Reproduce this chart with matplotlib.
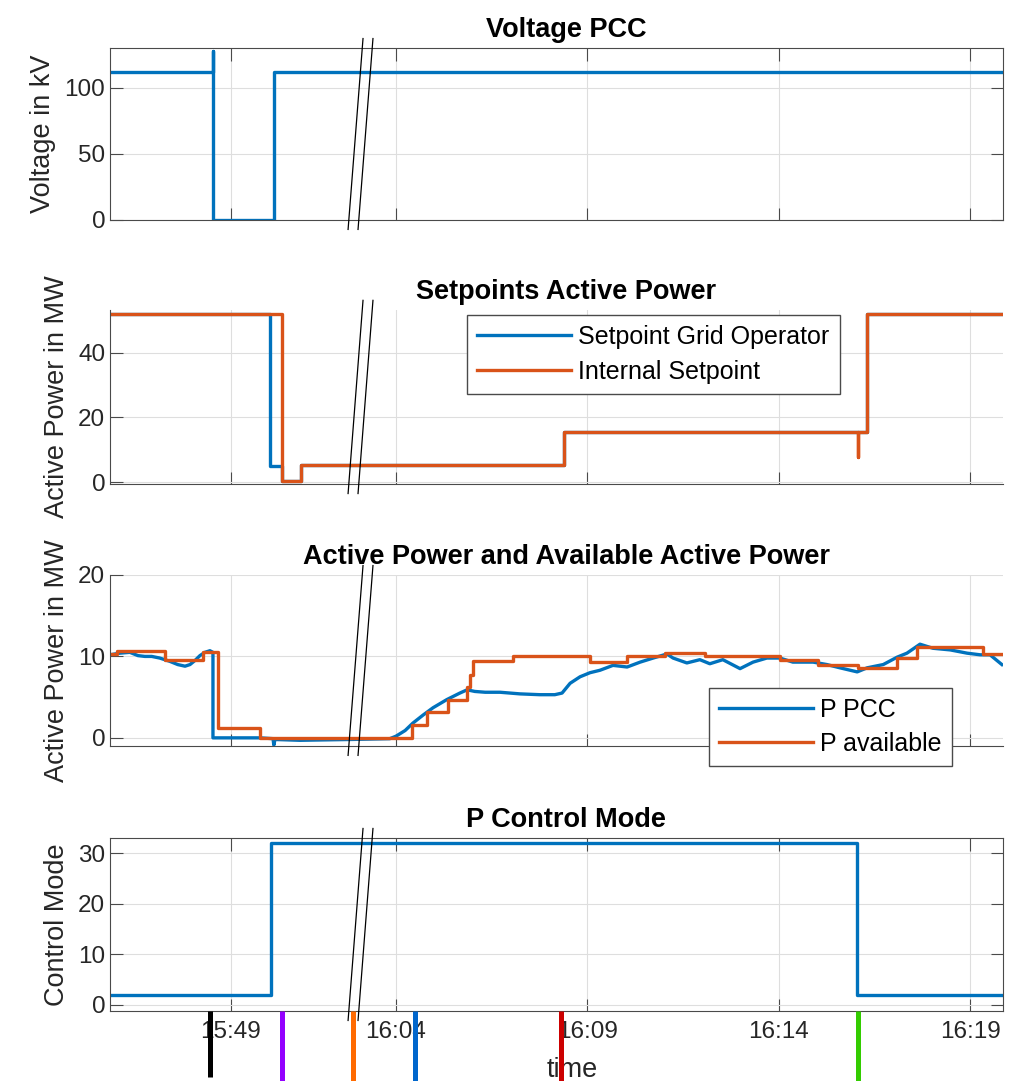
import matplotlib
matplotlib.use("Agg")
import matplotlib.pyplot as plt
import matplotlib.transforms as mtransforms

plt.rcParams['font.family'] = ['Liberation Sans', 'DejaVu Sans']

# time axis in minutes relative to 16:04 (axis is compressed at the // break)
x_start, x_end = -7.47, 15.86
tick_pos = [-4.31, 0, 5, 10, 15]
tick_labels = ['15:49', '16:04', '16:09', '16:14', '16:19']

# Voltage PCC
v_time = [-7.47, -4.78, -4.78, -4.78, -3.19, -3.19, 15.86]
v_kv = [112, 112, 128, 0, 0, 112, 112]

# Setpoints (step data, steps-post)
sp_grid_time = [-7.47, -3.29, -2.98, -2.48, 4.39, 12.3, 15.86]
sp_grid_val = [52, 5, 0.3, 5.3, 15.5, 52, 52]
sp_int_time = [-7.47, -2.98, -2.48, 4.39, 12.07, 12.07, 12.3, 15.86]
sp_int_val = [52, 0.3, 5.3, 15.5, 7.8, 15.5, 52, 52]

# Active power at PCC
p_time = [-7.47, -7.21, -6.95, -6.74, -6.56, -6.38, -6.17, -5.91, -5.70, -5.51,
          -5.38, -5.25, -5.12, -4.99, -4.86, -4.78, -4.78, -3.55, -3.21, -3.19,
          -3.16, -2.51, -1.20, -0.16, 0.00, 0.24, 0.44, 0.71, 0.97, 1.33,
          1.67, 1.86, 2.06, 2.33, 2.72, 3.24, 3.76, 4.15, 4.34, 4.55,
          4.81, 5.07, 5.33, 5.67, 6.04, 6.38, 6.72, 7.08, 7.24, 7.60,
          7.94, 8.20, 8.54, 8.99, 9.33, 9.69, 10.03, 10.37, 10.90, 11.26,
          11.60, 12.05, 12.31, 12.73, 13.09, 13.35, 13.69, 14.03, 14.48, 14.92,
          15.26, 15.52, 15.83]
p_pcc = [10.2, 10.4, 10.5, 10.1, 10.0, 10.0, 9.8, 9.4, 9.0, 8.8,
         9.0, 9.5, 10.1, 10.5, 10.7, 10.5, 0.0, 0.0, -0.1, -0.9,
         -0.2, -0.3, -0.2, -0.1, 0.2, 0.9, 1.8, 2.8, 3.7, 4.7,
         5.5, 5.9, 5.7, 5.6, 5.6, 5.4, 5.3, 5.3, 5.5, 6.7,
         7.5, 8.0, 8.3, 8.9, 8.7, 9.3, 9.8, 10.3, 9.8, 9.2,
         9.6, 9.1, 9.6, 8.5, 9.3, 9.8, 9.8, 9.3, 9.3, 9.0,
         8.6, 8.1, 8.6, 9.0, 9.9, 10.4, 11.5, 11.0, 10.8, 10.4,
         10.2, 10.2, 9.0]

# Available active power (steps-post)
pa_time = [-7.47, -7.29, -6.04, -5.04, -4.65, -3.55, 0.42, 0.81, 1.36, 1.86,
           1.93, 2.01, 3.06, 5.07, 6.04, 7.03, 8.07, 10.03, 11.03, 12.07,
           13.09, 13.61, 15.34, 15.86]
pa_val = [10.3, 10.7, 9.6, 10.6, 1.2, 0.0, 1.6, 3.2, 4.6, 6.3,
          7.7, 9.4, 10.1, 9.3, 10.0, 10.4, 10.0, 9.6, 9.0, 8.6,
          9.8, 11.2, 10.3, 10.3]

# P control mode (steps-post)
cm_time = [-7.47, -3.27, 12.05, 15.86]
cm_val = [2, 32, 2, 2]

# event markers below the time axis
event_time = [-4.86, -2.98, -1.12, 0.50, 4.31, 12.07]
event_colors = ['black', '#9400FF', '#FF6A00', '#0066CC', '#CC0000', '#33CC00']

BLUE = '#0072BD'
ORANGE = '#D95319'
AX_COLOR = '#4a4a4a'
GRID_COLOR = '#dedede'
TICK_FS = 17.5
LABEL_FS = 19.5

fig = plt.figure(figsize=(10.1, 10.81), dpi=100)
positions = [
    [0.1089, 0.7965, 0.8842, 0.1591],
    [0.1089, 0.5523, 0.8842, 0.1610],
    [0.1089, 0.3099, 0.8842, 0.1582],
    [0.1089, 0.0648, 0.8842, 0.1600],
]
axes = [fig.add_axes(p) for p in positions]


def style_axis(ax, title, ylabel, ylim, yticks, box):
    ax.set_xlim(x_start, x_end)
    ax.set_ylim(*ylim)
    ax.set_yticks(yticks)
    ax.set_xticks(tick_pos)
    ax.set_xticklabels([])
    ax.grid(True, color=GRID_COLOR, linewidth=0.8)
    ax.set_axisbelow(True)
    ax.tick_params(direction='in', length=9, width=0.8, color=AX_COLOR,
                   labelcolor='#262626', labelsize=TICK_FS, top=box, right=box)
    for side, sp in ax.spines.items():
        sp.set_color(AX_COLOR)
        sp.set_linewidth(0.8)
        if side in ('top', 'right') and not box:
            sp.set_visible(False)
    ax.set_title(title, fontsize=LABEL_FS, fontweight='bold', x=0.511, pad=8)
    ax.set_ylabel(ylabel, fontsize=LABEL_FS, color='#262626', labelpad=6)

    # axis break marks "//"
    trans = mtransforms.blended_transform_factory(ax.transData, ax.transAxes)
    for xb in (-1.25, -0.99):
        ax.plot([xb, xb + 0.39], [-0.055, 1.055], color='black', lw=0.9,
                transform=trans, clip_on=False, zorder=5)


ax1, ax2, ax3, ax4 = axes

ax1.plot(v_time, v_kv, color=BLUE, lw=2.4)
style_axis(ax1, 'Voltage PCC', 'Voltage in kV', (0, 130), [0, 50, 100], True)

ax2.plot(sp_grid_time, sp_grid_val, drawstyle='steps-post', color=BLUE, lw=2.4,
         label='Setpoint Grid Operator')
ax2.plot(sp_int_time, sp_int_val, drawstyle='steps-post', color=ORANGE, lw=2.4,
         label='Internal Setpoint')
style_axis(ax2, 'Setpoints Active Power', 'Active Power in MW', (-0.6, 53.3),
           [0, 20, 40], False)
ax2.legend(loc='upper left', bbox_to_anchor=(0.400, 0.971), fontsize=18,
           handlelength=3.75, handletextpad=0.3, borderpad=0.4,
           labelspacing=0.45, fancybox=False, framealpha=1,
           edgecolor=AX_COLOR, borderaxespad=0)

ax3.plot(p_time, p_pcc, color=BLUE, lw=2.4, label='P PCC')
ax3.plot(pa_time, pa_val, drawstyle='steps-post', color=ORANGE, lw=2.4,
         label='P available')
style_axis(ax3, 'Active Power and Available Active Power', 'Active Power in MW',
           (-1, 20), [0, 10, 20], False)
ax3.legend(loc='upper left', bbox_to_anchor=(0.671, 0.339), fontsize=18,
           handlelength=3.75, handletextpad=0.3, borderpad=0.4,
           labelspacing=0.4, fancybox=False, framealpha=1,
           edgecolor=AX_COLOR, borderaxespad=0)

ax4.plot(cm_time, cm_val, drawstyle='steps-post', color=BLUE, lw=2.4)
style_axis(ax4, 'P Control Mode', 'Control Mode', (-1.2, 33), [0, 10, 20, 30], True)
ax4.set_xticklabels(tick_labels)
ax4.tick_params(axis='x', pad=7)
ax4.set_xlabel('time', fontsize=LABEL_FS, color='#262626', labelpad=10, x=0.518)

trans4 = mtransforms.blended_transform_factory(ax4.transData, ax4.transAxes)
for t, c in zip(event_time, event_colors):
    y_end = -0.38 if c == 'black' else -0.45
    ax4.plot([t, t], [0, y_end], color=c, lw=3.6, transform=trans4,
             clip_on=False, zorder=6, solid_capstyle='butt')

fig.savefig('out.png', dpi=100)
